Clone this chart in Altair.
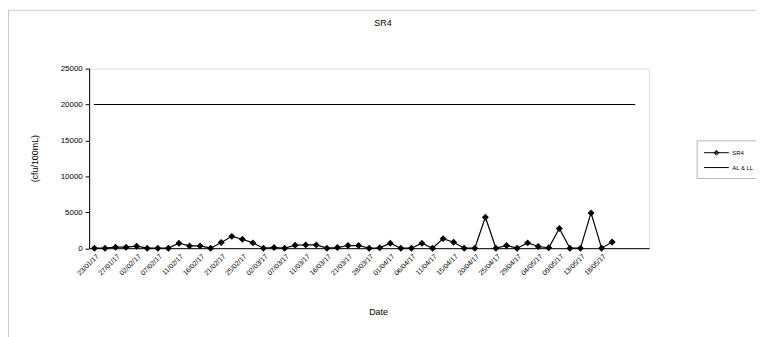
import altair as alt
import pandas as pd

# Categories (sampling dates); only every other one is labelled on the axis.
dates = [
    "23/01/17", "25/01/17", "27/01/17", "30/01/17", "02/02/17", "04/02/17",
    "07/02/17", "09/02/17", "11/02/17", "14/02/17", "16/02/17", "18/02/17",
    "21/02/17", "23/02/17", "25/02/17", "28/02/17", "02/03/17", "04/03/17",
    "07/03/17", "09/03/17", "11/03/17", "14/03/17", "16/03/17", "18/03/17",
    "21/03/17", "25/03/17", "28/03/17", "30/03/17", "01/04/17", "04/04/17",
    "06/04/17", "08/04/17", "11/04/17", "13/04/17", "15/04/17", "18/04/17",
    "20/04/17", "23/04/17", "25/04/17", "27/04/17", "29/04/17", "02/05/17",
    "04/05/17", "06/05/17", "09/05/17", "11/05/17", "13/05/17", "16/05/17",
    "18/05/17", "20/05/17",
]
blank_categories = [" ", "  ", "   "]
categories = dates + blank_categories
tick_labels = dates[::2]

sr4 = [
    0, 0, 140, 140, 275, 0, 0, 0, 690, 320,
    320, 0, 780, 1650, 1240, 735, 0, 100, 0, 413,
    460, 460, 0, 90, 370, 370, 0, 50, 690, 0,
    0, 690, 0, 1330, 830, 0, 0, 4315, 0, 370,
    0, 735, 230, 50, 2750, 0, 0, 4910, 0, 870,
]
al_ll_value = 20000
al_ll_categories = categories[:52]

series_names = ["SR4", "AL & LL"]

df = pd.concat([
    pd.DataFrame({"date": dates, "value": sr4, "series": "SR4"}),
    pd.DataFrame({"date": al_ll_categories, "value": al_ll_value, "series": "AL & LL"}),
], ignore_index=True)

FONT = "Liberation Sans"
W, H = 566, 181.5

x_enc = alt.X(
    "date:N",
    sort=categories,
    scale=alt.Scale(type="point", domain=categories, padding=0.5),
    axis=alt.Axis(
        values=tick_labels, title="Date", labelAngle=-45, labelFontSize=7,
        labelFont=FONT, labelColor="black", ticks=False, domainColor="black",
        labelPadding=4, titleFont=FONT, titleFontSize=9, titleFontWeight="normal",
        titleColor="black", titleX=292, titleY=64, titleBaseline="middle",
        grid=False,
    ),
)
y_enc = alt.Y(
    "value:Q",
    scale=alt.Scale(domain=[0, 25000], nice=False),
    axis=alt.Axis(
        values=[0, 5000, 10000, 15000, 20000, 25000], format="d",
        title="(cfu/100mL)",
        labelFontSize=8, labelFont=FONT, labelColor="black", tickSize=4,
        tickColor="black", domainColor="black", labelPadding=3, grid=False,
        titleFont=FONT, titleFontSize=9, titleFontWeight="normal",
        titleColor="black", titleX=-55, titleY=90.5, titleAngle=-90,
        titleAlign="center", titleBaseline="middle",
    ),
)

base = alt.Chart(df)

lines = base.mark_line(color="black", strokeWidth=1.2).encode(
    x=x_enc, y=y_enc, detail="series:N"
)
points = base.transform_filter(alt.datum.series == "SR4").mark_point(
    shape="diamond", filled=True, size=49, color="black", opacity=1
).encode(x=x_enc, y=y_enc)

# legend symbol paths (line with a small diamond / plain line)
diamond_line = ("M-1,0L4,0M1.5,-0.5L2,0L1.5,0.5L1,0Z"
                "M1.5,-0.3L1.8,0L1.5,0.3L1.2,0Z")
plain_line = "M-1,0L4,0"
legend_carrier = base.transform_filter(alt.datum.series == "AL & LL").mark_point(
    filled=False, size=1, color="black", strokeWidth=1, opacity=1
).encode(
    x=x_enc, y=y_enc,
    shape=alt.Shape(
        "series:N",
        scale=alt.Scale(domain=series_names, range=[diamond_line, plain_line]),
        legend=alt.Legend(
            title=None, orient="none", legendX=614, legendY=72.5,
            symbolSize=100, symbolStrokeColor="black",
            symbolStrokeWidth=1, labelFont=FONT, labelFontSize=6,
            labelColor="black", strokeColor="#b5b5b5", padding=7,
            rowPadding=5, labelOffset=18,
        ),
    ),
)

frame = alt.Chart(alt.Data(values=[{}])).mark_rect(
    fill="transparent", stroke="#c8c8c8", strokeWidth=1
).encode(
    x=alt.value(-81.5), x2=alt.value(W + 120),
    y=alt.value(-59), y2=alt.value(H + 100),
)

chart = alt.layer(frame, lines, points, legend_carrier).properties(
    width=W, height=H,
    title=alt.TitleParams(
        text="SR4", font=FONT, fontSize=9, fontWeight="normal", color="black",
        anchor="middle", dx=14, offset=0, dy=27, baseline="bottom",
    ),
    autosize=alt.AutoSizeParams(type="none"),
    padding={"left": 82, "top": 59.5, "right": 108, "bottom": 88},
).configure_view(stroke="#b5b5b5", strokeWidth=1).configure(background="white")

chart.save("out.html", embed_options={"renderer": "svg", "actions": False})
